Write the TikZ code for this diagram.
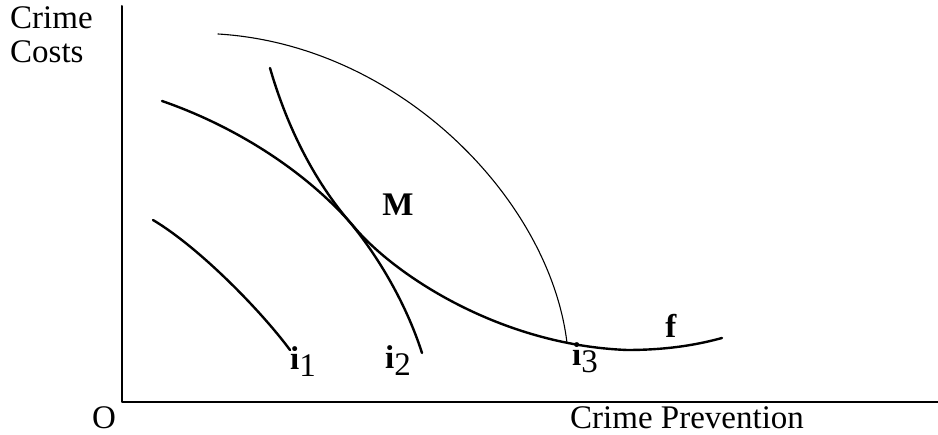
\documentclass[tikz,border=0pt]{standalone}
\usepackage{fontspec}
\setmainfont{Liberation Serif}
\usetikzlibrary{positioning}
\newcommand{\isub}[1]{\textbf{i}\raisebox{-7pt}{#1}}

\begin{document}
\begin{tikzpicture}[x=1pt,y=-1pt,line join=round,line cap=round, every node/.style={font=\fontsize{33}{34}\selectfont,inner sep=0pt}]
\tikzstyle{axis}=[line width=2pt]
\tikzstyle{curve}=[line width=2.4pt]
\tikzstyle{faint}=[line width=1.1pt]
\tikzstyle{lbl}=[anchor=base west]
\tikzstyle{bottom}=[text depth=0pt]
\useasboundingbox (0,0) rectangle (938,435);
% axes
\coordinate (ytop) at (122,6);
\coordinate (origin) at (122,402);
\coordinate (xend) at (938,402);
\draw[axis] (ytop) -- (origin) -- (xend);
\node[anchor=north west,align=left] (ylab) at (10,6) {Crime\\Costs};
\node[bottom,anchor=base] (o) at (104,429) {O};
\node[bottom,anchor=base west] (xlab) at (570,429) {Crime Prevention};
% curves
\draw[curve] (153,220) .. controls (200,248) and (262,312) .. (290,350);
\draw[curve] (270,68) .. controls (285,120) and (310,175) .. (348,220)
  .. controls (375,252) and (405,300) .. (422,353);
\draw[faint] (218,34) .. controls (400,45) and (550,200) .. (567,343);
\draw[curve] (162,101) .. controls (240,128) and (310,175) .. (355,228)
  .. controls (395,275) and (500,345) .. (627,350)
  .. controls (670,350) and (700,344) .. (722,338);
% labels
\node[lbl] (i1) at (290,370) {\isub{1}};
\node[lbl] (i2) at (385,369) {\isub{2}};
\node[lbl] (i3) at (572,366) {\isub{3}};
\node[anchor=base] (m) at (398,216) {\textbf{M}};
\node[anchor=base] (f) at (671,338) {\textbf{f}};
\end{tikzpicture}
\end{document}
